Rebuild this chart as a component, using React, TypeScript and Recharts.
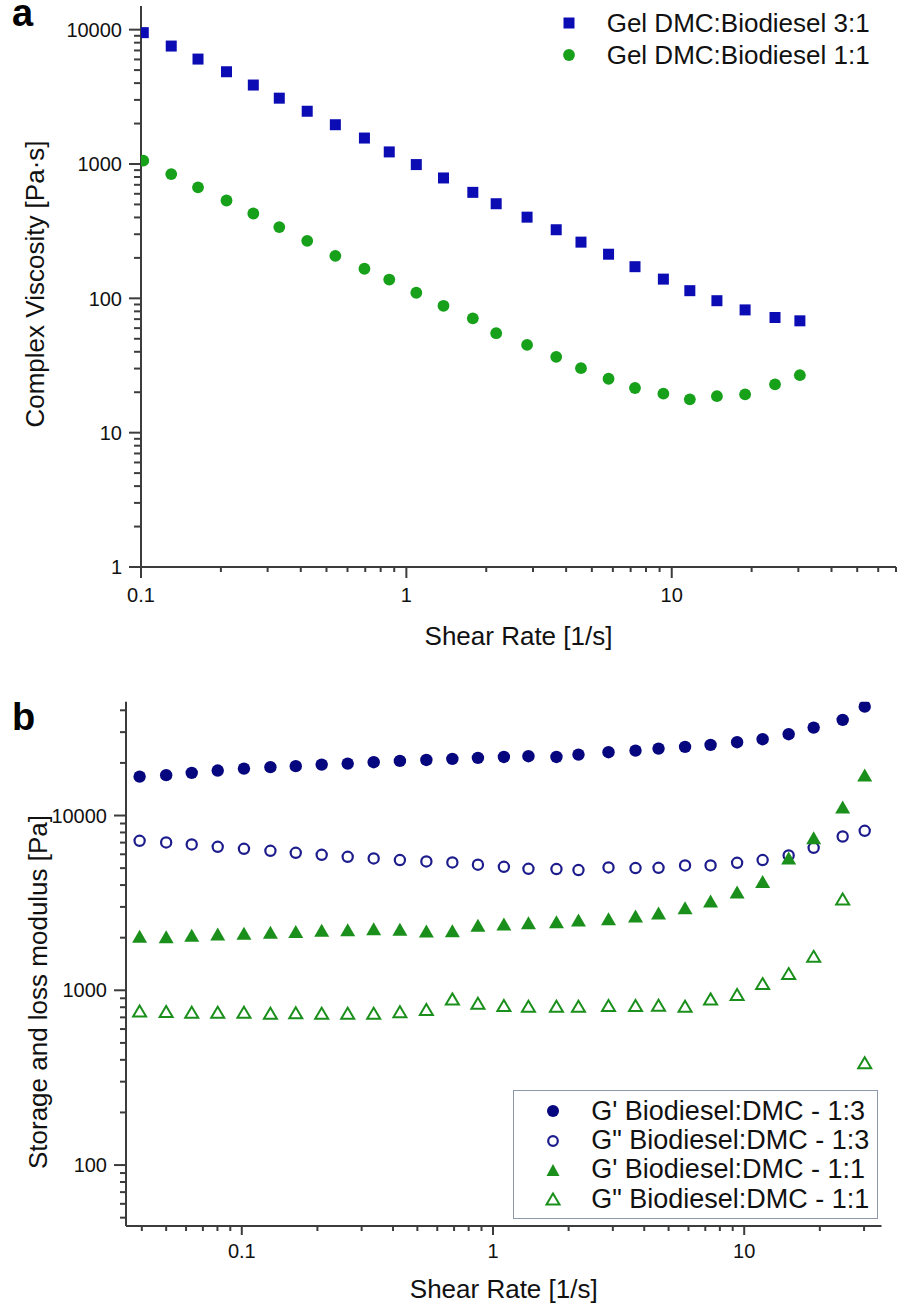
import React from 'react';
import { ScatterChart, Scatter, XAxis, YAxis, Legend } from 'recharts';

const FONT = '"Liberation Sans", Arial, Helvetica, sans-serif';
const AXIS = '#3c3c3c';
const TEXT = '#111111';

// ---------- Panel a data ----------
const shearRateA = [0.102, 0.13, 0.164, 0.21, 0.265, 0.332, 0.423, 0.54, 0.695, 0.862, 1.09, 1.38, 1.78, 2.18, 2.85, 3.67, 4.55, 5.78, 7.27, 9.3, 11.7, 14.8, 18.9, 24.5, 30.4];
const viscosityGel31 = [9500, 7550, 6040, 4860, 3870, 3090, 2470, 1960, 1560, 1230, 990, 787, 615, 506, 402, 324, 262, 213, 172, 139, 114, 96, 82, 72, 68];
const viscosityGel11 = [1058, 841, 670, 535, 428, 339, 268, 207, 166, 138, 110, 88, 71, 55, 45, 36.7, 30.2, 25.2, 21.5, 19.5, 17.7, 18.7, 19.3, 22.9, 26.8];

// ---------- Panel b data ----------
const shearRateB = [0.0392, 0.05, 0.0632, 0.0802, 0.102, 0.13, 0.164, 0.208, 0.264, 0.335, 0.426, 0.543, 0.689, 0.871, 1.105, 1.384, 1.789, 2.189, 2.883, 3.693, 4.56, 5.815, 7.347, 9.37, 11.84, 15.03, 18.9, 24.66, 30.18];
const gPrime13 = [16700, 17020, 17540, 18080, 18560, 18910, 19160, 19560, 19820, 20180, 20540, 20800, 21080, 21360, 21640, 21840, 21640, 22310, 23030, 23520, 24150, 24690, 25350, 26270, 27330, 29180, 31840, 35240, 41970];
const gDouble13 = [7167, 7012, 6829, 6624, 6451, 6284, 6121, 5963, 5808, 5680, 5561, 5460, 5389, 5229, 5091, 4958, 4939, 4875, 5044, 5004, 5024, 5181, 5181, 5365, 5561, 5908, 6538, 7586, 8178];
const gPrime11 = [2035, 2027, 2062, 2100, 2117, 2145, 2173, 2203, 2223, 2252, 2232, 2185, 2193, 2352, 2396, 2437, 2469, 2525, 2569, 2662, 2769, 2969, 3243, 3650, 4197, 5709, 7457, 11170, 17080];
const gDouble11 = [762, 756, 749, 749, 749, 739, 743, 739, 739, 739, 753, 776, 893, 843, 818, 810, 810, 810, 818, 818, 821, 810, 893, 945, 1092, 1246, 1564, 3329, 385];

// ---------- tick labels ----------
const xMajorA = [0.1, 1, 10];
const xTickLabelsA = ['0.1', '1', '10'];
const yMajorA = [1, 10, 100, 1000, 10000];
const yTickLabelsA = ['1', '10', '100', '1000', '10000'];
const xMajorB = [0.1, 1, 10];
const xTickLabelsB = ['0.1', '1', '10'];
const yMajorB = [100, 1000, 10000];
const yTickLabelsB = ['100', '1000', '10000'];

const seriesNamesA = ['Gel DMC:Biodiesel 3:1', 'Gel DMC:Biodiesel 1:1'];
const seriesNamesB = [
  "G' Biodiesel:DMC - 1:3",
  'G" Biodiesel:DMC - 1:3',
  "G' Biodiesel:DMC - 1:1",
  'G" Biodiesel:DMC - 1:1',
];

const BLUE_A = '#0c0cb4';
const GREEN_A = '#17a01a';
const NAVY_B = '#06067e';
const GREEN_B = '#1b8f1b';

function logTicks(min: number, max: number): number[] {
  const out: number[] = [];
  for (let e = Math.floor(Math.log10(min)); e <= Math.ceil(Math.log10(max)); e++) {
    for (let m = 1; m <= 9; m++) {
      const v = Number((m * Math.pow(10, e)).toPrecision(6));
      if (v >= min * 0.999999 && v <= max * 1.000001) out.push(v);
    }
  }
  return out;
}

const zip = (xs: number[], ys: number[]) => xs.map((x, i) => ({ x, y: ys[i] }));

// ---------- marker shapes ----------
const square = (color: string, s = 11) => (cx: number, cy: number) => (
  <rect x={cx - s / 2} y={cy - s / 2} width={s} height={s} fill={color} />
);
const dot = (color: string, r = 6) => (cx: number, cy: number) => <circle cx={cx} cy={cy} r={r} fill={color} />;
const ring = (color: string, r = 5.1) => (cx: number, cy: number) => (
  <circle cx={cx} cy={cy} r={r} fill="none" stroke={color} strokeWidth={2.2} />
);
const tri = (color: string, open: boolean, w = 15, h = 13) => (cx: number, cy: number) => (
  <polygon
    points={`${cx},${cy - h / 2} ${cx + w / 2},${cy + h / 2} ${cx - w / 2},${cy + h / 2}`}
    fill={open ? 'none' : color}
    stroke={open ? color : 'none'}
    strokeWidth={open ? 2 : 0}
    strokeLinejoin="miter"
  />
);
const openTri = (color: string) => (cx: number, cy: number) => (
  <polygon
    points={`${cx},${cy - 5.5} ${cx + 6.5},${cy + 5.5} ${cx - 6.5},${cy + 5.5}`}
    fill="none"
    stroke={color}
    strokeWidth={2}
  />
);

const seriesA = [
  { name: seriesNamesA[0], data: zip(shearRateA, viscosityGel31), color: BLUE_A, marker: square(BLUE_A) },
  { name: seriesNamesA[1], data: zip(shearRateA, viscosityGel11), color: GREEN_A, marker: dot(GREEN_A, 5.9) },
];
const seriesB = [
  { name: seriesNamesB[0], data: zip(shearRateB, gPrime13), color: NAVY_B, marker: dot(NAVY_B, 6.2), legendMarker: dot(NAVY_B, 6) },
  { name: seriesNamesB[1], data: zip(shearRateB, gDouble13), color: NAVY_B, marker: ring('#1c1c8c'), legendMarker: ring('#1c1c8c', 4.8) },
  { name: seriesNamesB[2], data: zip(shearRateB, gPrime11), color: GREEN_B, marker: tri(GREEN_B, false), legendMarker: tri(GREEN_B, false, 13, 12) },
  { name: seriesNamesB[3], data: zip(shearRateB, gDouble11), color: GREEN_B, marker: openTri(GREEN_B), legendMarker: openTri(GREEN_B) },
];

// ---------- ticks ----------
const makeXTick = (majors: number[], labels: string[], majorLen: number, minorLen: number, labelBase: number) =>
  (props: any) => {
    const { x, y, payload } = props;
    const i = majors.findIndex((m) => Math.abs(m - payload.value) < m * 1e-6);
    const major = i >= 0;
    return (
      <g>
        <line x1={x} x2={x} y1={y} y2={y + (major ? majorLen : minorLen)} stroke={AXIS} strokeWidth={2} />
        {major && (
          <text x={x} y={y + labelBase} textAnchor="middle" fontSize={20} fontFamily={FONT} fill={TEXT}>
            {labels[i]}
          </text>
        )}
      </g>
    );
  };

const makeYTick = (majors: number[], labels: string[], majorLen: number, minorLen: number) =>
  (props: any) => {
    const { x, y, payload } = props;
    const i = majors.findIndex((m) => Math.abs(m - payload.value) < m * 1e-6);
    const major = i >= 0;
    return (
      <g>
        <line x1={x} x2={x - (major ? majorLen : minorLen)} y1={y} y2={y} stroke={AXIS} strokeWidth={2} />
        {major && (
          <text x={x - 19} y={y + 7.2} textAnchor="end" fontSize={20} fontFamily={FONT} fill={TEXT}>
            {labels[i]}
          </text>
        )}
      </g>
    );
  };

// ---------- layout ----------
const W = 904;
const A = { h: 660, left: 141, top: 6, right: 896, bottom: 567 };
const B = { h: 648, left: 126, top: 41.7, right: 881.5, bottom: 566 };
const Y_AXIS_W = 80;
const X_AXIS_H = 60;

const legendA = () => (
  <div style={{ fontFamily: FONT, fontSize: 26, color: TEXT }}>
    {seriesA.map((s) => (
      <div key={s.name} style={{ display: 'flex', alignItems: 'center', height: 32, lineHeight: '32px', whiteSpace: 'nowrap' }}>
        <svg width={20} height={20} style={{ flex: 'none' }}>
          {s.marker(10, 10)}
        </svg>
        <span style={{ marginLeft: 27.7 }}>{s.name}</span>
      </div>
    ))}
  </div>
);

const legendB = () => (
  <div style={{ fontFamily: FONT, fontSize: 27, color: TEXT, paddingTop: 5.5, paddingLeft: 29.1 }}>
    {seriesB.map((s) => (
      <div key={s.name} style={{ display: 'flex', alignItems: 'center', height: 29.4, lineHeight: '29.4px', whiteSpace: 'nowrap' }}>
        <svg width={20} height={20} style={{ flex: 'none' }}>
          {s.legendMarker(10, 10)}
        </svg>
        <span style={{ marginLeft: 28.4 }}>{s.name}</span>
      </div>
    ))}
  </div>
);

function PanelA() {
  return (
    <ScatterChart
      width={W}
      height={A.h}
      margin={{ top: A.top, right: W - A.right, left: A.left - Y_AXIS_W, bottom: A.h - A.bottom - X_AXIS_H }}
    >
      <XAxis
        type="number"
        dataKey="x"
        scale="log"
        domain={[0.1, 70]}
        allowDataOverflow
        ticks={logTicks(0.1, 70)}
        interval={0}
        tickLine={false}
        tickSize={0}
        tickMargin={0}
        tick={makeXTick(xMajorA, xTickLabelsA, 11, 5, 35)}
        axisLine={{ stroke: AXIS, strokeWidth: 2 }}
        height={X_AXIS_H}
        label={() => (
          <text x={(A.left + A.right) / 2} y={645} textAnchor="middle" fontSize={26} fontFamily={FONT} fill={TEXT}>
            Shear Rate [1/s]
          </text>
        )}
      />
      <YAxis
        type="number"
        dataKey="y"
        scale="log"
        domain={[1, 15000]}
        allowDataOverflow
        ticks={logTicks(1, 10000)}
        interval={0}
        tickLine={false}
        tickSize={0}
        tickMargin={0}
        tick={makeYTick(yMajorA, yTickLabelsA, 12, 7)}
        axisLine={{ stroke: AXIS, strokeWidth: 2 }}
        width={Y_AXIS_W}
        label={() => (
          <g>
            <text x={12} y={26} fontSize={38} fontWeight="bold" fontFamily={FONT} fill="#000">
              a
            </text>
            <text
              x={44}
              y={284}
              transform="rotate(-90 44 284)"
              textAnchor="middle"
              fontSize={26}
              fontFamily={FONT}
              fill={TEXT}
            >
              Complex Viscosity [Pa·s]
            </text>
          </g>
        )}
      />
      {seriesA.map((s) => (
        <Scatter
          key={s.name}
          name={s.name}
          data={s.data}
          fill={s.color}
          isAnimationActive={false}
          shape={(p: any) => s.marker(p.cx, p.cy)}
        />
      ))}
      <Legend
        layout="vertical"
        align="center"
        verticalAlign="middle"
        content={legendA}
        wrapperStyle={{ left: 559, top: 7.3, width: 340, height: 64 }}
      />
    </ScatterChart>
  );
}

function PanelB() {
  return (
    <ScatterChart
      width={W}
      height={B.h}
      margin={{ top: B.top, right: W - B.right, left: B.left - Y_AXIS_W, bottom: B.h - B.bottom - X_AXIS_H }}
    >
      <XAxis
        type="number"
        dataKey="x"
        scale="log"
        domain={[0.0346, 35.2]}
        allowDataOverflow
        ticks={logTicks(0.04, 30)}
        interval={0}
        tickLine={false}
        tickSize={0}
        tickMargin={0}
        tick={makeXTick(xMajorB, xTickLabelsB, 9, 5, 32)}
        axisLine={{ stroke: AXIS, strokeWidth: 2 }}
        height={X_AXIS_H}
        label={() => (
          <text x={(B.left + B.right) / 2} y={638} textAnchor="middle" fontSize={26} fontFamily={FONT} fill={TEXT}>
            Shear Rate [1/s]
          </text>
        )}
      />
      <YAxis
        type="number"
        dataKey="y"
        scale="log"
        domain={[44.8, 44800]}
        allowDataOverflow
        ticks={logTicks(50, 40000)}
        interval={0}
        tickLine={false}
        tickSize={0}
        tickMargin={0}
        tick={makeYTick(yMajorB, yTickLabelsB, 12, 6)}
        axisLine={{ stroke: AXIS, strokeWidth: 2 }}
        width={Y_AXIS_W}
        label={() => (
          <g>
            <text x={12} y={70} fontSize={38} fontWeight="bold" fontFamily={FONT} fill="#000">
              b
            </text>
            <text
              x={46.5}
              y={332}
              transform="rotate(-90 46.5 332)"
              textAnchor="middle"
              fontSize={26}
              fontFamily={FONT}
              fill={TEXT}
            >
              Storage and loss modulus [Pa]
            </text>
          </g>
        )}
      />
      {seriesB.map((s) => (
        <Scatter
          key={s.name}
          name={s.name}
          data={s.data}
          fill={s.color}
          isAnimationActive={false}
          shape={(p: any) => s.marker(p.cx, p.cy)}
        />
      ))}
      <Legend
        layout="vertical"
        align="center"
        verticalAlign="middle"
        content={legendB}
        wrapperStyle={{
          left: 512.7,
          top: 430,
          width: 365,
          height: 129.3,
          border: '1.5px solid #8d98a8',
          boxSizing: 'border-box',
          background: '#ffffff',
        }}
      />
    </ScatterChart>
  );
}

export default function App() {
  return (
    <div style={{ position: 'absolute', left: 0, top: 0, width: W, height: 1308, background: '#ffffff' }}>
      <div style={{ position: 'absolute', left: 0, top: 0 }}>
        <PanelA />
      </div>
      <div style={{ position: 'absolute', left: 0, top: 660 }}>
        <PanelB />
      </div>
    </div>
  );
}
